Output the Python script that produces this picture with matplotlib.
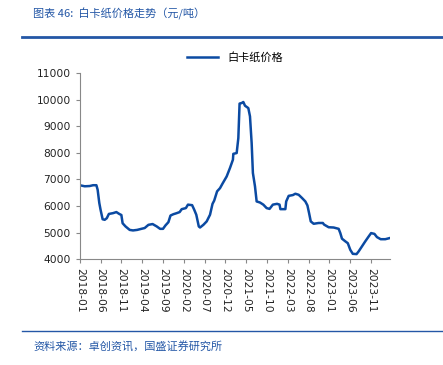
import matplotlib
matplotlib.use("Agg")
import matplotlib.pyplot as plt
from matplotlib.lines import Line2D

plt.rcParams['font.family'] = ['DejaVu Sans', 'Noto Sans CJK SC']

# month offset from 2018-01, price (yuan/ton)
months = [0, 1.2, 2.4, 3.2, 4.0, 4.3, 4.7, 5.0, 5.5, 6.0, 6.5, 7.0, 8.0, 8.8, 9.5, 10.0,
          10.3, 11.0, 12.0, 12.8, 13.8, 14.8, 15.6, 16.5, 17.5, 18.5, 19.3, 20.0, 20.6,
          21.3, 21.8, 22.5, 23.3, 24.0, 24.5, 25.5, 26.0, 27.0, 27.5, 28.0, 28.6, 28.9,
          29.7, 30.5, 31.3, 31.9, 32.3, 33.0, 33.7, 34.3, 35.3, 36.1, 36.8, 36.9, 37.7,
          38.1, 38.4, 38.9, 39.3, 39.7, 40.5, 40.9, 41.3, 41.6, 42.1, 42.5, 43.3, 44.1,
          44.9, 45.6, 46.4, 47.4, 48.0, 48.2, 49.4, 49.6, 50.2, 51.2, 51.8, 52.6, 53.4,
          54.2, 54.7, 55.1, 55.5, 56.2, 57.4, 58.4, 58.7, 59.8, 61.0, 62.2, 62.6, 63.0,
          63.8, 64.4, 65.0, 65.6, 66.5, 67.0, 67.8, 68.6, 69.4, 70.0, 70.8, 71.4, 72.3,
          73.4, 74.4]
prices = [6780, 6740, 6750, 6780, 6780, 6610, 6110, 5860, 5500, 5480, 5540, 5700, 5730,
          5770, 5700, 5660, 5350, 5230, 5100, 5080, 5100, 5140, 5170, 5290, 5320, 5230,
          5140, 5140, 5270, 5390, 5640, 5690, 5730, 5770, 5880, 5920, 6050, 6030, 5860,
          5670, 5230, 5190, 5290, 5420, 5670, 6080, 6200, 6550, 6670, 6840, 7110, 7430,
          7740, 7960, 7990, 8550, 9850, 9870, 9910, 9770, 9680, 9370, 8370, 7240, 6740,
          6170, 6130, 6050, 5920, 5890, 6050, 6080, 6050, 5880, 5880, 6170, 6380, 6410,
          6460, 6420, 6300, 6170, 6020, 5730, 5420, 5330, 5360, 5360, 5300, 5200, 5190,
          5140, 4980, 4770, 4670, 4600, 4350, 4200, 4190, 4290, 4480, 4670, 4850, 4980,
          4950, 4830, 4750, 4750, 4790]
tick_months = [0, 5, 10, 15, 20, 25, 30, 35, 40, 45, 50, 55, 60, 65, 70]
tick_labels = ['2018-01', '2018-06', '2018-11', '2019-04', '2019-09', '2020-02',
               '2020-07', '2020-12', '2021-05', '2021-10', '2022-03', '2022-08',
               '2023-01', '2023-06', '2023-11']

blue = '#0b4aa2'
head_blue = '#2457a6'

fig = plt.figure(figsize=(4.43, 3.65), dpi=100)
ax = fig.add_axes([0.18, 0.29, 0.70, 0.51])
ax.plot(months, prices, color=blue, lw=1.8)
ax.set_xlim(0, 74.5)
ax.set_ylim(4000, 11000)
ax.set_yticks(range(4000, 11001, 1000))
ax.set_xticks(tick_months)
ax.set_xticklabels(tick_labels, rotation=270)
ax.tick_params(axis='both', labelsize=7.7, colors='#222222', length=3, width=0.8)
ax.tick_params(axis='x', color='#888888')
ax.tick_params(axis='y', color='#888888')
for s in ['top', 'right']:
    ax.spines[s].set_visible(False)
for s in ['left', 'bottom']:
    ax.spines[s].set_color('#888888')
    ax.spines[s].set_linewidth(0.8)

leg = ax.legend(handles=[Line2D([], [], color=blue, lw=1.8)], labels=['白卡纸价格'],
                loc='lower center', bbox_to_anchor=(0.5, 1.0), frameon=False,
                prop={'family': ['Noto Sans CJK SC'], 'size': 8}, handlelength=2.8)

# header and footer
fig.text(0.075, 0.962, '图表 46:  白卡纸价格走势（元/吨）', color=head_blue, fontsize=8,
         family=['Noto Sans CJK SC', 'DejaVu Sans'], va='center')
fig.add_artist(Line2D([0.05, 1.0], [0.898, 0.898], color=head_blue, lw=2))
fig.add_artist(Line2D([0.05, 1.0], [0.093, 0.093], color=head_blue, lw=1))
fig.text(0.075, 0.048, '资料来源：卓创资讯，国盛证券研究所', color=head_blue, fontsize=8,
         family=['Noto Sans CJK SC', 'DejaVu Sans'], va='center')

fig.savefig('out.png', dpi=100)
